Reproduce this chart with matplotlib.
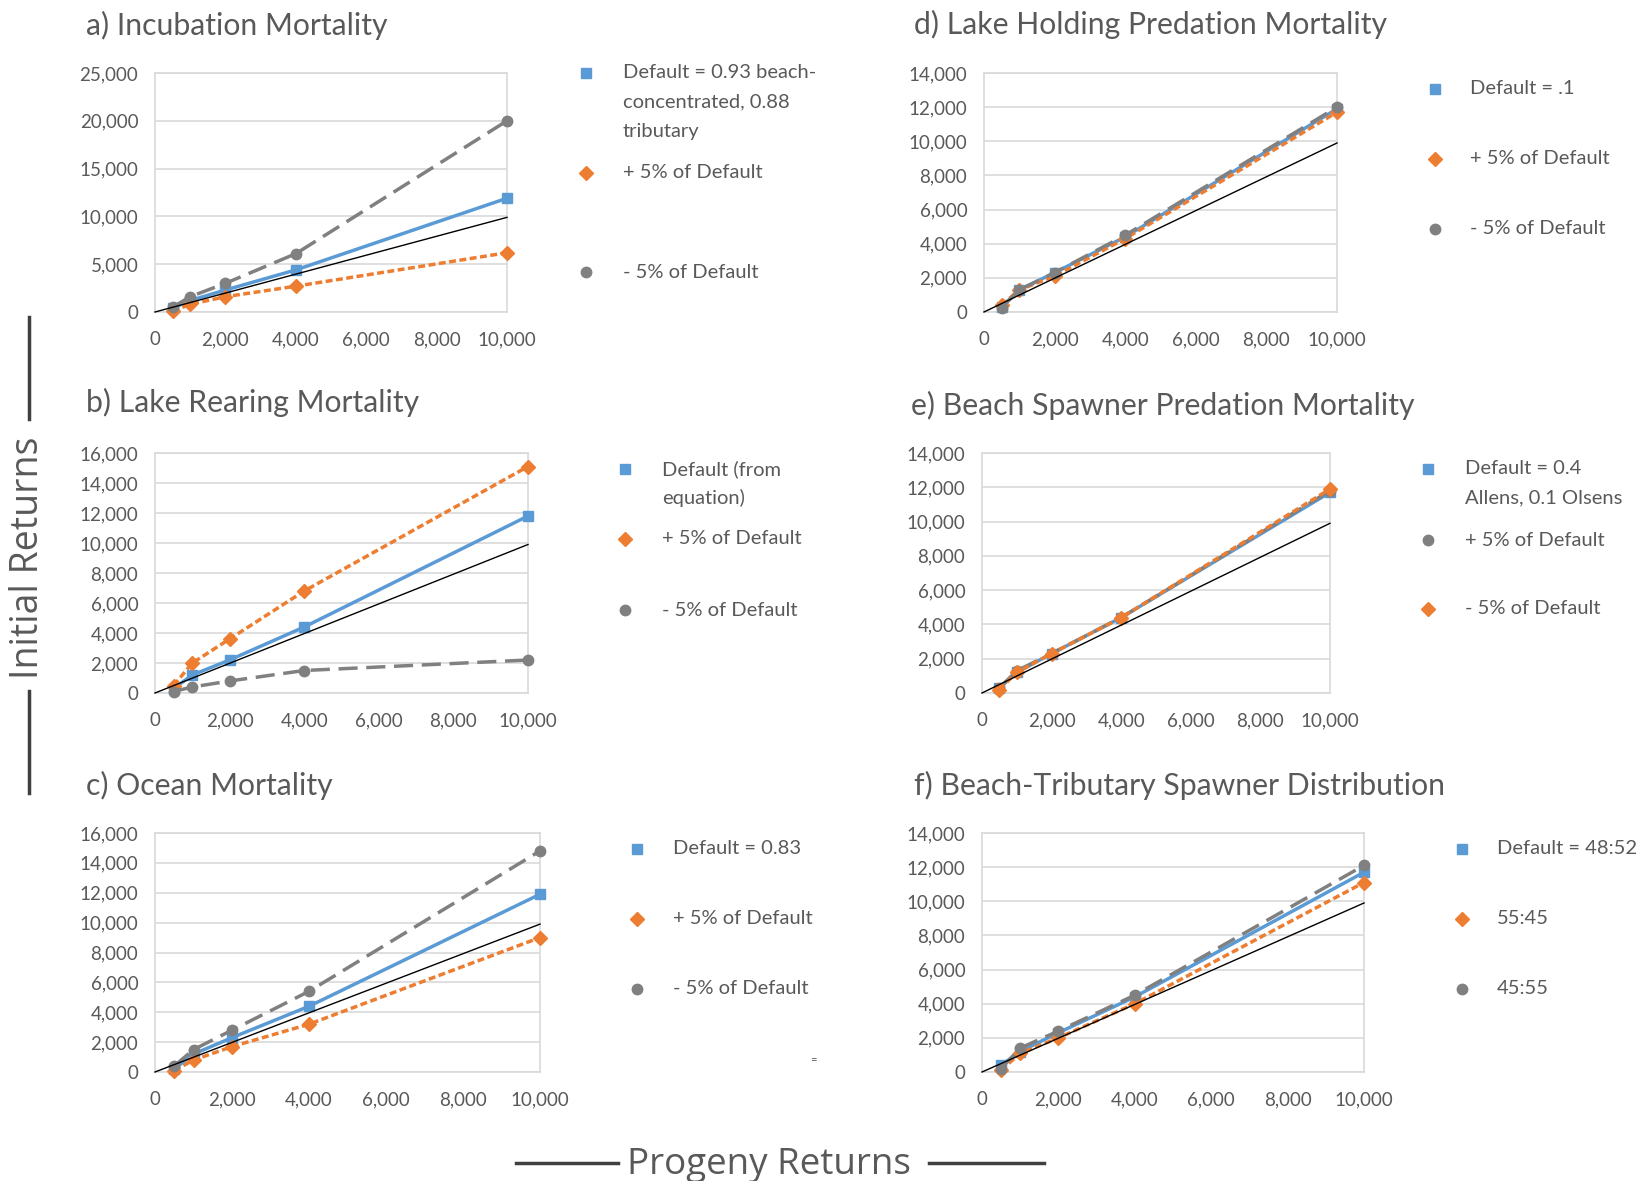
import matplotlib
matplotlib.use("Agg")
import matplotlib.pyplot as plt
from matplotlib.lines import Line2D

W, H = 1642, 1181

# progeny returns (x) shared by all panels
x_vals = [500, 1000, 2000, 4000, 10000]

# a) Incubation Mortality
a_default = [400, 1200, 2300, 4400, 11900]
a_plus = [100, 800, 1600, 2700, 6200]
a_minus = [500, 1600, 3000, 6100, 20000]

# b) Lake Rearing Mortality
b_default = [300, 1200, 2200, 4400, 11800]
b_plus = [500, 2000, 3600, 6800, 15100]
b_minus = [100, 400, 800, 1500, 2200]

# c) Ocean Mortality
c_default = [200, 1200, 2300, 4400, 11900]
c_plus = [100, 800, 1700, 3200, 9000]
c_minus = [400, 1500, 2800, 5400, 14800]

# d) Lake Holding Predation Mortality
d_default = [300, 1300, 2300, 4400, 11900]
d_plus = [400, 1300, 2100, 4300, 11700]
d_minus = [250, 1300, 2300, 4500, 12000]

# e) Beach Spawner Predation Mortality (gray = +5%, orange = -5%)
e_default = [300, 1200, 2300, 4400, 11700]
e_gray = [300, 1300, 2300, 4400, 11800]
e_orange = [200, 1200, 2300, 4400, 11900]

# f) Beach-Tributary Spawner Distribution
f_default = [400, 1200, 2300, 4400, 11700]
f_orange = [100, 1100, 2000, 4000, 11100]
f_gray = [200, 1400, 2400, 4500, 12100]

titles = ["a) Incubation Mortality", "b) Lake Rearing Mortality", "c) Ocean Mortality",
          "d) Lake Holding Predation Mortality", "e) Beach Spawner Predation Mortality",
          "f) Beach-Tributary Spawner Distribution"]

legend_a = ["Default = 0.93 beach-\nconcentrated, 0.88\ntributary", "+ 5% of Default", "- 5% of Default"]
legend_b = ["Default (from\nequation)", "+ 5% of Default", "- 5% of Default"]
legend_c = ["Default = 0.83", "+ 5% of Default", "- 5% of Default"]
legend_d = ["Default = .1", "+ 5% of Default", "- 5% of Default"]
legend_e = ["Default = 0.4\nAllens, 0.1 Olsens", "+ 5% of Default", "- 5% of Default"]
legend_f = ["Default = 48:52", "55:45", "45:55"]

BLUE = "#5b9bd5"
ORANGE = "#ed7d31"
GRAY = "#808080"
TXT = "#595959"
GRID = "#d9d9d9"

plt.rcParams['font.family'] = ['Lato', 'DejaVu Sans']

fig = plt.figure(figsize=(W / 100, H / 100), dpi=100)


def box(l, r, t, b):
    return [l / W, 1 - b / H, (r - l) / W, (b - t) / H]


def px(x, y):
    return x / W, 1 - y / H


def draw_panel(rect, ymax, ystep, series):
    ax = fig.add_axes(rect)
    # series: list of (y, color, marker, dashes)
    for y, color, marker, dashes in series:
        ln, = ax.plot(x_vals, y, color=color, lw=2.5, marker=marker, ms=7.5,
                      clip_on=False, zorder=3)
        if dashes is not None:
            ln.set_dashes(dashes)
    ax.plot([0, 10000], [0, 9900], color="black", lw=1, zorder=4, clip_on=False)
    ax.set_xlim(0, 10000)
    ax.set_ylim(0, ymax)
    ax.set_xticks(range(0, 10001, 2000))
    ax.set_yticks(range(0, ymax + 1, ystep))
    ax.xaxis.set_major_formatter(matplotlib.ticker.StrMethodFormatter("{x:,.0f}"))
    ax.yaxis.set_major_formatter(matplotlib.ticker.StrMethodFormatter("{x:,.0f}"))
    ax.tick_params(length=0, labelsize=13.5, colors=TXT, pad=12)
    ax.tick_params(axis="x", pad=14)
    ax.grid(axis="y", color=GRID, lw=1.2)
    ax.set_axisbelow(True)
    for s in ax.spines.values():
        s.set_color(GRID)
        s.set_linewidth(1.2)
    return ax


def draw_legend(mx, tx, ys, labels, styles):
    for y, lab, (color, marker) in zip(ys, labels, styles):
        fig.add_artist(Line2D([mx / W], [1 - y / H], marker=marker, color=color,
                              ms=7.5, lw=0, transform=fig.transFigure))
        for i, line in enumerate(lab.split("\n")):
            fx, fy = px(tx, y + i * 29)
            fig.text(fx, fy, line, fontsize=14.5, color=TXT, ha="left", va="center")


def draw_title(x, y, s):
    fx, fy = px(x, y)
    fig.text(fx, fy, s, fontsize=21.7, color=TXT, ha="left", va="center")


short = (2, 1)
long = (5.5, 2.5)
std = [(BLUE, "s"), (ORANGE, "D"), (GRAY, "o")]

# a
draw_panel(box(155, 507, 73, 312), 25000, 5000,
           [(a_default, BLUE, "s", None), (a_plus, ORANGE, "D", short), (a_minus, GRAY, "o", long)])
draw_title(86, 25, titles[0])
draw_legend(586, 623, [73, 173, 272], legend_a, std)

# b
draw_panel(box(155, 528, 453, 693), 16000, 2000,
           [(b_default, BLUE, "s", None), (b_plus, ORANGE, "D", short), (b_minus, GRAY, "o", long)])
draw_title(86, 402, titles[1])
draw_legend(625, 662, [469, 539, 610], legend_b, std)

# c
draw_panel(box(155, 540, 833, 1072), 16000, 2000,
           [(c_default, BLUE, "s", None), (c_plus, ORANGE, "D", short), (c_minus, GRAY, "o", long)])
draw_title(86, 785, titles[2])
draw_legend(637, 673, [849, 919, 989], legend_c, std)

# d
draw_panel(box(984, 1337, 73, 312), 14000, 2000,
           [(d_default, BLUE, "s", None), (d_plus, ORANGE, "D", short), (d_minus, GRAY, "o", long)])
draw_title(914, 24, titles[3])
draw_legend(1435, 1470, [89, 159, 229], legend_d, std)

# e
draw_panel(box(982, 1330, 453, 693), 14000, 2000,
           [(e_default, BLUE, "s", None), (e_gray, GRAY, "o", long), (e_orange, ORANGE, "D", short)])
draw_title(911, 405, titles[4])
draw_legend(1428, 1465, [469, 540, 609], legend_e, [(BLUE, "s"), (GRAY, "o"), (ORANGE, "D")])

# f
draw_panel(box(982, 1364, 833, 1072), 14000, 2000,
           [(f_default, BLUE, "s", None), (f_orange, ORANGE, "D", short), (f_gray, GRAY, "o", long)])
draw_title(914, 785, titles[5])
draw_legend(1462, 1497, [849, 919, 989], legend_f, std)

# big shared axis labels with side rules
fx, fy = px(28, 558)
fig.text(fx, fy, "Initial Returns", rotation=90, fontsize=27, color=TXT,
         ha="center", va="center", family=["Open Sans", "DejaVu Sans"])
fig.add_artist(Line2D([29 / W, 29 / W], [1 - 317 / H, 1 - 419 / H], color="#404040", lw=2.5))
fig.add_artist(Line2D([29 / W, 29 / W], [1 - 691 / H, 1 - 793 / H], color="#404040", lw=2.5))

fx, fy = px(769, 1165)
fig.text(fx, fy, "Progeny Returns", fontsize=26.5, color=TXT,
         ha="center", va="center", family=["Open Sans", "DejaVu Sans"])
fig.add_artist(Line2D([516 / W, 618 / W], [1 - 1163 / H, 1 - 1163 / H], color="#404040", lw=2.5))
fig.add_artist(Line2D([929 / W, 1044 / W], [1 - 1163 / H, 1 - 1163 / H], color="#404040", lw=2.5))

# stray mark in the original
fx, fy = px(813, 1060)
fig.text(fx, fy, "=", fontsize=8, color=TXT, ha="center", va="center")

fig.savefig("out.png", dpi=100)
